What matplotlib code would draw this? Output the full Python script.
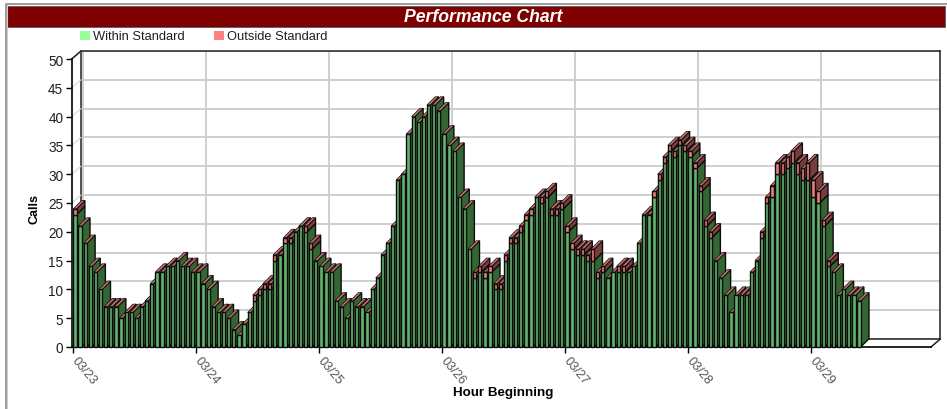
import matplotlib
matplotlib.use("Agg")
import matplotlib.pyplot as plt
from matplotlib.patches import Rectangle

plt.rcParams['font.family'] = ['Liberation Sans', 'DejaVu Sans']

title = "Performance Chart"
series_names = ["Within Standard", "Outside Standard"]
day_labels = ["03/23", "03/24", "03/25", "03/26", "03/27", "03/28", "03/29"]
y_ticks = [0, 5, 10, 15, 20, 25, 30, 35, 40, 45, 50]

within = [23, 21, 18, 14, 13, 10, 7, 7, 7, 5, 6, 6, 5, 7, 8, 11, 13, 13, 14, 14, 15, 14, 14, 13,
          13, 11, 10, 7, 6, 6, 5, 3, 2, 4, 6, 8, 9, 10, 10, 15, 16, 18, 18, 20, 21, 20, 17, 15,
          14, 13, 13, 8, 7, 5, 8, 7, 7, 6, 10, 12, 16, 18, 21, 29, 30, 37, 40, 39, 40, 42, 42, 41,
          37, 35, 34, 26, 24, 17, 12, 13, 12, 13, 10, 10, 15, 18, 18, 20, 22, 23, 26, 25, 26, 23, 23, 24,
          20, 17, 16, 16, 15, 15, 12, 13, 12, 13, 13, 13, 13, 14, 18, 23, 23, 26, 29, 32, 34, 33, 35, 34,
          33, 31, 27, 21, 19, 15, 12, 9, 6, 9, 9, 9, 13, 15, 19, 25, 26, 30, 30, 31, 32, 30, 29, 29,
          26, 25, 21, 14, 13, 9, 10, 9, 9, 8]
outside = [1, 0, 0, 0, 0, 0, 0, 0, 0, 0, 0, 0, 0, 0, 0, 0, 0, 0, 0, 0, 0, 0, 0, 0,
           0, 0, 0, 0, 0, 0, 0, 0, 0, 0, 0, 1, 1, 1, 1, 1, 0, 1, 1, 0, 0, 1, 1, 0,
           0, 0, 0, 0, 0, 0, 0, 0, 0, 0, 0, 0, 0, 0, 0, 0, 0, 0, 0, 0, 0, 0, 0, 0,
           0, 0, 0, 0, 0, 0, 1, 1, 1, 1, 1, 1, 1, 1, 1, 1, 1, 1, 0, 1, 1, 1, 1, 1,
           1, 1, 1, 1, 1, 2, 1, 1, 0, 0, 1, 1, 0, 0, 0, 0, 0, 1, 1, 1, 1, 1, 1, 1,
           1, 1, 1, 1, 1, 0, 0, 0, 0, 0, 0, 0, 0, 0, 1, 1, 2, 2, 2, 2, 2, 2, 2, 3,
           3, 2, 1, 1, 0, 0, 0, 0, 0, 0]

W, H = 947, 410
fig = plt.figure(figsize=(W / 100, H / 100), dpi=100)


def axes_px(x0, y_top, x1, y_bot, **kw):
    return fig.add_axes([x0 / W, 1 - y_bot / H, (x1 - x0) / W, (y_bot - y_top) / H], **kw)


# page frame and banner
frame = fig.add_axes([0, 0, 1, 1], zorder=0)
frame.set_xlim(0, W); frame.set_ylim(H, 0); frame.axis("off")
frame.plot([5.5, 5.5, 947], [410, 4.5, 4.5], color="#8a8a8a", lw=1.2)
frame.plot([7, 7], [6, 410], color="#d0d0d0", lw=0.8)
frame.add_patch(Rectangle((7, 6.5), 938, 21, facecolor="#7f0000", edgecolor="#5a5a5a", lw=0.6))
frame.text(483.5, 17, title, color="white", fontsize=12.7, fontweight="bold", style="italic",
           ha="center", va="center")
for sx, tx, name, col in [(80, 93, series_names[0], "#99ff99"), (214, 227, series_names[1], "#ff8080")]:
    frame.add_patch(Rectangle((sx, 32), 9.5, 9, facecolor=col, edgecolor="none"))
    frame.text(tx, 37.5, name, fontsize=9.3, color="#202020", ha="left", va="center")

PX_X = 5.125     # pixels per hour
PX_Y = 5.76      # pixels per call
X0 = 73.3        # pixel of hour 0
Y0 = 348.0       # pixel of 0 calls
DEPTH_X = 9.3
DEPTH_Y = 8.0
LEFT, RIGHT = 71.7, 931.0
xlim = ((LEFT - X0) / PX_X, (RIGHT - X0) / PX_X)
ylim = (0, 50)
DX, DY = DEPTH_X / PX_X, DEPTH_Y / PX_Y
BDX, BDY = 8.3 / PX_X, 8.3 / PX_Y

# back wall: same scales, shifted by the chart depth
back = axes_px(LEFT + DEPTH_X, 60 - DEPTH_Y, RIGHT + DEPTH_X, Y0 - DEPTH_Y, zorder=1)
back.set_xlim(xlim); back.set_ylim(ylim)
back.set_xticks([24 * i for i in range(len(day_labels))])
back.set_yticks(y_ticks)
back.grid(True, color="#cccccc", lw=1.3)
back.set_axisbelow(True)
back.tick_params(length=0, labelbottom=False, labelleft=False)
for s in back.spines.values():
    s.set_color("#202020"); s.set_linewidth(1.1)

# front plane with axes and bars
ax = axes_px(LEFT, 60, RIGHT, Y0, zorder=2)
ax.patch.set_alpha(0)
ax.set_xlim(xlim); ax.set_ylim(ylim)
for s in ("top", "right"):
    ax.spines[s].set_visible(False)
for s in ("left", "bottom"):
    ax.spines[s].set_color("black"); ax.spines[s].set_linewidth(1.2)
ax.set_yticks(y_ticks)
ax.set_xticks([24 * i for i in range(len(day_labels))])
ax.set_xticklabels(day_labels, rotation=-50, rotation_mode="anchor", ha="left", va="center",
                   fontsize=9.2, color="#555555")
ax.tick_params(axis="y", length=4, width=1, labelsize=9.8, labelcolor="#202020", pad=2)
ax.tick_params(axis="x", length=4, width=1, pad=4)
ax.set_ylabel("Calls", fontsize=9, fontweight="bold")
ax.set_xlabel("Hour Beginning", fontsize=9.6, fontweight="bold")
ax.xaxis.set_label_coords((503 - LEFT) / (RIGHT - LEFT), -(387 - Y0) / (Y0 - 60), transform=ax.transAxes)
ax.yaxis.set_label_coords((41 - LEFT) / (RIGHT - LEFT), (Y0 - 209) / (Y0 - 60), transform=ax.transAxes)

# depth lines from the front plane to the wall
for t in y_ticks[1:]:
    ax.plot([xlim[0], xlim[0] + DX], [t, t + DY], color="#d8d8d8", lw=0.8, clip_on=False, zorder=1)
ax.plot([xlim[0], xlim[0] + DX], [50, 50 + DY], color="#202020", lw=1.1, clip_on=False, zorder=1)
ax.plot([xlim[1], xlim[1] + DX], [0, DY], color="#202020", lw=1.1, clip_on=False, zorder=1)

BW = 0.64
EDGE = "#0c0c0c"
LW = 1.0
z = 3
for i, (a, b) in enumerate(zip(within, outside)):
    x = i
    r = x + BW
    total = a + b
    ax.fill([r, r + BDX, r + BDX, r], [0, BDY, a + BDY, a], facecolor="#336633", edgecolor=EDGE,
            lw=LW, clip_on=False, zorder=z)
    if b:
        ax.fill([r, r + BDX, r + BDX, r], [a, a + BDY, total + BDY, total], facecolor="#7a3d3d",
                edgecolor=EDGE, lw=LW, clip_on=False, zorder=z)
    ax.fill([x, r, r + BDX, x + BDX], [total, total, total + BDY, total + BDY], facecolor="#c87070",
            edgecolor=EDGE, lw=0.5, clip_on=False, zorder=z)
    ax.bar(x, a, width=BW, align="edge", color="#62b56f", edgecolor=EDGE, lw=LW, zorder=z + 0.1,
           clip_on=False)
    if b:
        ax.bar(x, b, bottom=a, width=BW, align="edge", color="#f07a7a", edgecolor=EDGE, lw=LW,
               zorder=z + 0.1, clip_on=False)
    z += 1

fig.savefig("out.png", dpi=100)
